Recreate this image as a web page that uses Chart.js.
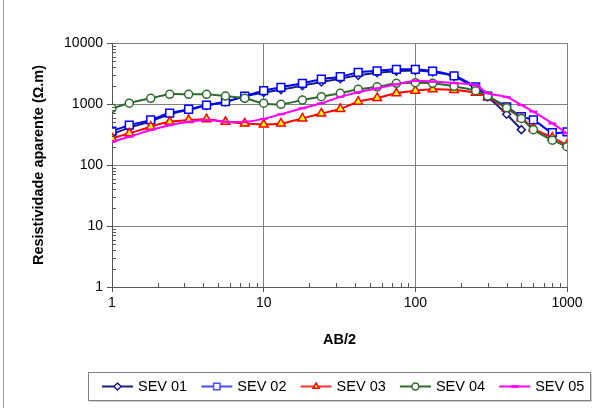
<!DOCTYPE html>
<html>
<head>
<meta charset="utf-8">
<script src="https://cdn.jsdelivr.net/npm/chart.js@4/dist/chart.umd.min.js"></script>
<style>
  html, body { margin: 0; padding: 0; background: #fff; }
  #wrap { width: 600px; height: 408px; position: relative; }
</style>
</head>
<body>
<div id="wrap"><canvas id="chart"></canvas></div>
<script>
// AB/2 values (m)
const abValues = [1, 1.3, 1.8, 2.4, 3.2, 4.2, 5.6, 7.5, 10, 13, 18, 24, 32, 42, 56, 75, 100, 130, 180, 250, 300, 400, 500, 600, 800, 1000];

// apparent resistivity (ohm.m) per sounding
const sev01 = [320, 410, 520, 680, 800, 940, 1080, 1330, 1540, 1720, 2000, 2300, 2600, 2950, 3250, 3450, 3550, 3350, 2850, 1800, 1300, 680, 380, null, null, null];
const sev02 = [360, 450, 550, 710, 820, 960, 1090, 1350, 1650, 1880, 2180, 2550, 2800, 3300, 3500, 3700, 3700, 3450, 2900, 1900, 1350, 900, 620, 550, 340, 350];
const sev03 = [275, 330, 425, 510, 545, 560, 510, 480, 460, 480, 580, 700, 830, 1090, 1260, 1500, 1650, 1740, 1700, 1530, 1300, 850, 585, 400, 280, 215];
const sev04 = [850, 1030, 1240, 1440, 1440, 1440, 1350, 1240, 1030, 990, 1160, 1320, 1500, 1740, 1910, 2180, 2230, 2180, 1950, 1650, 1350, 870, 580, 380, 255, 200];
const sev05 = [240, 290, 375, 450, 510, 545, 510, 510, 570, 680, 850, 1030, 1310, 1560, 1800, 2100, 2400, 2330, 2200, 2050, 1500, 1300, 960, 750, 480, 330];

const seriesNames = ['SEV 01', 'SEV 02', 'SEV 03', 'SEV 04', 'SEV 05'];
const xTicks = [1, 10, 100, 1000];
const yTicks = [1, 10, 100, 1000, 10000];

const FONT = "'Liberation Sans', Arial, sans-serif";

function toPoints(values) {
  const pts = [];
  values.forEach((v, i) => { if (v !== null) pts.push({ x: abValues[i], y: v }); });
  return pts;
}

const styles = [
  { line: '#1c1c86', fill: '#ffffff', point: 'rectRot', r: 4 },
  { line: '#0000ff', fill: '#ffffff', point: 'rect', r: 5.5 },
  { line: '#ff0000', fill: '#ffff00', point: 'triangle', r: 5 },
  { line: '#2f6a2f', fill: '#ffffff', point: 'circle', r: 4 },
  { line: '#ff00ff', fill: '#ff00ff', point: 'line', r: 4 }
];
const legendLine = ['#1c1c86', '#4a4aff', '#ff3030', '#2f6a2f', '#ff00ff'];

const datasets = [sev01, sev02, sev03, sev04, sev05].map((vals, i) => ({
  label: seriesNames[i],
  data: toPoints(vals),
  borderColor: styles[i].line,
  backgroundColor: styles[i].fill,
  pointBorderColor: styles[i].line,
  pointBackgroundColor: styles[i].fill,
  pointStyle: styles[i].point,
  pointRadius: styles[i].r,
  pointBorderWidth: i === 4 ? 2 : 1.5,
  borderWidth: 2,
  tension: 0.3,
  order: 4 - i
}));

// minor ticks, axis titles, legend box
const extras = {
  id: 'extras',
  afterDraw(chart) {
    const ctx = chart.ctx;
    const xs = chart.scales.x, ys = chart.scales.y;
    const area = chart.chartArea;
    ctx.save();
    ctx.strokeStyle = '#555';
    ctx.lineWidth = 1;
    ctx.beginPath();
    for (let d = 1; d < 1000; d *= 10) {
      for (let k = 2; k <= 9; k++) {
        const px = Math.round(xs.getPixelForValue(d * k)) + 0.5;
        ctx.moveTo(px, area.bottom);
        ctx.lineTo(px, area.bottom - 4);
      }
    }
    for (let d = 1; d < 10000; d *= 10) {
      for (let k = 2; k <= 9; k++) {
        const py = Math.round(ys.getPixelForValue(d * k)) + 0.5;
        ctx.moveTo(area.left, py);
        ctx.lineTo(area.left + 4, py);
      }
    }
    ctx.stroke();

    // frame line on the left
    ctx.strokeStyle = '#9a9a9a';
    ctx.beginPath();
    ctx.moveTo(3.5, 0);
    ctx.lineTo(3.5, 408);
    ctx.stroke();

    // axis titles
    ctx.fillStyle = '#000';
    ctx.font = 'bold 14.5px ' + FONT;
    ctx.textAlign = 'center';
    ctx.textBaseline = 'middle';
    ctx.fillText('AB/2', (area.left + area.right) / 2, 340);
    ctx.save();
    ctx.translate(39, 165);
    ctx.rotate(-Math.PI / 2);
    ctx.fillText('Resistividade aparente (\u03A9.m)', 0, 0);
    ctx.restore();

    // legend
    const bx = 88, by = 372, bw = 502, bh = 28;
    ctx.fillStyle = '#cfcfcf';
    ctx.fillRect(bx + 2, by + 2, bw, bh);
    ctx.fillStyle = '#fff';
    ctx.fillRect(bx, by, bw, bh);
    ctx.strokeStyle = '#808080';
    ctx.lineWidth = 1;
    ctx.strokeRect(bx + 0.5, by + 0.5, bw, bh);
    const cy = by + 14.5;
    chart.data.datasets.forEach((ds, i) => {
      const sx = 102 + i * 99.3;
      ctx.strokeStyle = legendLine[i];
      ctx.lineWidth = 2;
      ctx.beginPath();
      ctx.moveTo(sx, cy);
      ctx.lineTo(sx + 31, cy);
      ctx.stroke();
      ctx.fillStyle = ds.pointBackgroundColor;
      ctx.strokeStyle = i === 1 ? legendLine[i] : ds.pointBorderColor;
      ctx.lineWidth = 1.5;
      if (ds.pointStyle === 'line') {
        ctx.lineWidth = 3;
        ctx.beginPath();
        ctx.moveTo(sx + 12, cy);
        ctx.lineTo(sx + 19, cy);
        ctx.stroke();
      } else {
        const r = ds.pointStyle === 'rect' ? 4.5 : 3.5;
        Chart.helpers.drawPoint(ctx, { pointStyle: ds.pointStyle, radius: r, borderWidth: 1.5 }, sx + 15.5, cy);
      }
      ctx.fillStyle = '#000';
      ctx.font = '14.5px ' + FONT;
      ctx.textAlign = 'left';
      ctx.textBaseline = 'middle';
      ctx.fillText(ds.label, sx + 36, cy);
    });
    ctx.restore();
  }
};

new Chart(document.getElementById('chart'), {
  type: 'line',
  data: { datasets: datasets },
  options: {
    responsive: true,
    maintainAspectRatio: false,
    animation: false,
    layout: { padding: { left: 0, right: 33, top: 43, bottom: 0 } },
    plugins: {
      legend: { display: false },
      tooltip: { enabled: false }
    },
    scales: {
      x: {
        type: 'logarithmic',
        min: 1,
        max: 1000,
        afterBuildTicks: (s) => { s.ticks = xTicks.map(v => ({ value: v })); },
        afterFit: (s) => { s.height = 121; },
        ticks: {
          color: '#000',
          font: { family: FONT, size: 14 },
          padding: 3,
          maxRotation: 0,
          callback: (v) => String(v)
        },
        grid: { color: '#808080', tickColor: '#555', tickLength: 5, lineWidth: 1 },
        border: { color: '#555', width: 1 }
      },
      y: {
        type: 'logarithmic',
        min: 1,
        max: 10000,
        afterBuildTicks: (s) => { s.ticks = yTicks.map(v => ({ value: v })); },
        afterFit: (s) => { s.width = 112; },
        ticks: {
          color: '#000',
          font: { family: FONT, size: 14 },
          padding: 4,
          callback: (v) => String(v)
        },
        grid: { color: '#808080', tickColor: '#555', tickLength: 5, lineWidth: 1 },
        border: { color: '#555', width: 1 }
      }
    }
  },
  plugins: [extras]
});
</script>
</body>
</html>
